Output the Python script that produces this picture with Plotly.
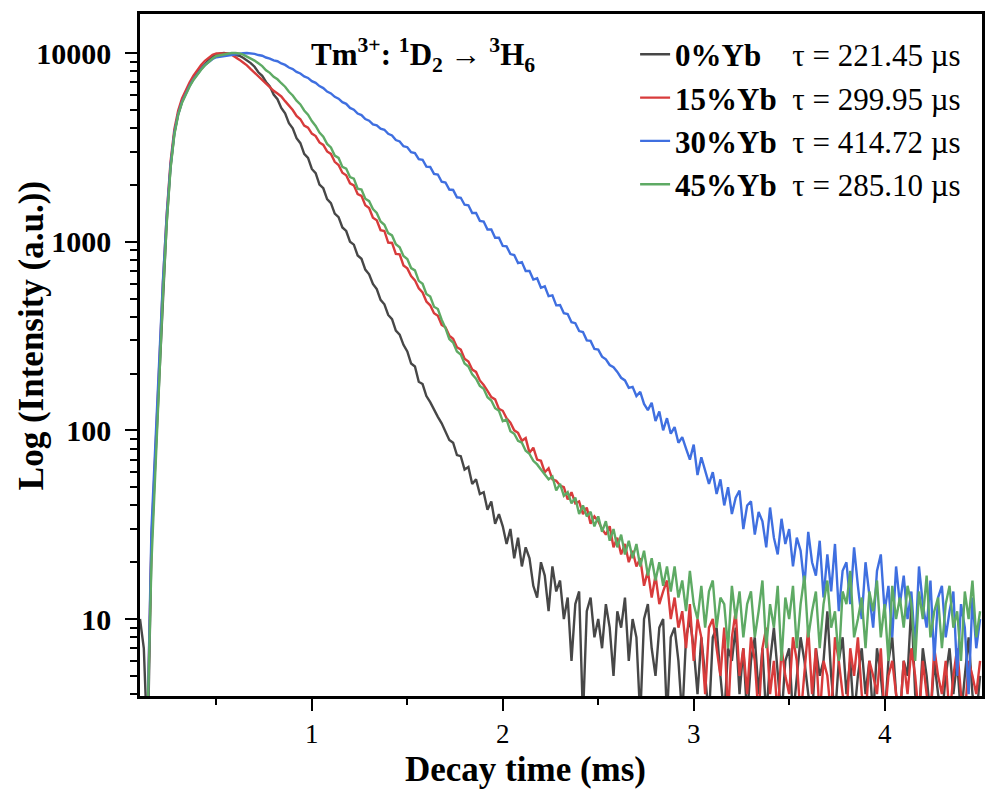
import numpy as np
import plotly.graph_objects as go

# ---------------- data ----------------
T_START = 0.10   # ms, first sample
T_STEP = 0.02    # ms, sampling step

SERIES_NAMES = ["0%Yb", "15%Yb", "30%Yb", "45%Yb"]
TAU_US = ["221.45", "299.95", "414.72", "285.10"]
COLORS = ["#474747", "#d83b3b", "#3f6fe0", "#5eaa64"]

INT_0YB = [
    10, 7, 2, 24, 68, 190, 540, 1280, 2480, 3760,
    4760, 5560, 6180, 6780, 7380, 7880, 8330, 8780, 9180, 9560,
    9850, 9960, 10000, 9930, 9870, 9760, 9680, 9450, 9150, 8850,
    8460, 7910, 7570, 7030, 6660, 6030, 5690, 5120, 4790, 4250,
    3990, 3540, 3330, 2920, 2780, 2430, 2310, 2010, 1920, 1680,
    1600, 1410, 1350, 1190, 1140, 1000, 965, 845, 812, 712,
    672, 598, 561, 492, 466, 409, 389, 338, 322, 284,
    262, 226, 218, 181, 176, 152, 141, 128, 118, 109,
    98, 89, 86, 74, 73, 62, 64, 52, 55, 46,
    47, 38, 42, 32, 36, 31, 25, 30, 21, 27,
    19, 24, 21, 15, 13, 20, 17, 11, 19, 14,
    16, 10, 13, 6, 12, 14, 3, 11, 13, 8,
    10, 7, 12, 9, 5, 11, 9, 13, 6, 10,
    8, 3, 10, 12, 7, 5, 9, 10, 3, 8,
    9, 6, 3, 8, 10, 7, 4, 8, 5, 3,
    8, 9, 5, 3, 7, 6, 9, 4, 7, 3,
    6, 8, 4, 7, 3, 6, 9, 5, 3, 6,
    7, 3, 5, 8, 6, 4, 3, 7, 5, 6,
    11, 5, 3, 6, 8, 4, 6, 3, 5, 7,
    4, 6, 3, 7, 5, 3, 6, 8, 4, 3,
    6, 5, 12, 4, 3, 7, 5, 3, 6, 4,
    3, 5, 7, 4, 6, 3, 5, 8, 4, 3,
    5,
]

INT_15YB = [
    3, 3, 3, 26, 75, 210, 600, 1400, 2650, 3950,
    4950, 5750, 6400, 7000, 7600, 8150, 8650, 9100, 9500, 9800,
    9950, 9970, 10000, 9950, 9800, 9550, 9230, 8910, 8610, 8220,
    7850, 7500, 7160, 6840, 6610, 6310, 6100, 5890, 5560, 5250,
    4990, 4640, 4460, 4130, 4020, 3740, 3630, 3360, 3260, 3010,
    2920, 2650, 2550, 2320, 2250, 2040, 1990, 1790, 1750, 1560,
    1510, 1340, 1300, 1150, 1140, 990, 985, 862, 858, 748,
    722, 658, 624, 566, 538, 482, 460, 418, 405, 362,
    352, 318, 306, 276, 268, 240, 232, 210, 204, 184,
    174, 162, 150, 146, 130, 127, 116, 110, 100, 97,
    88, 91, 76, 81, 70, 69, 60, 63, 55, 54,
    51, 50, 43, 47, 41, 42, 36, 39, 32, 35,
    33, 30, 28, 31, 24, 27, 22, 25, 20, 23,
    19, 21, 15, 18, 13, 17, 12, 14, 16, 10,
    13, 9, 11, 7, 12, 6, 10, 8, 4, 9,
    10, 7, 5, 9, 3, 8, 11, 5, 7, 4,
    8, 6, 3, 7, 9, 4, 6, 3, 7, 5,
    4, 8, 6, 3, 5, 9, 4, 7, 3, 6,
    5, 3, 8, 6, 4, 3, 7, 5, 8, 4,
    3, 6, 5, 4, 7, 3, 5, 6, 4, 3,
    6, 4, 7, 5, 3, 6, 4, 3, 7, 5,
    4, 6, 3, 5, 7, 4, 3, 6, 5, 4,
    6,
]

INT_30YB = [
    3, 3, 3, 30, 85, 230, 620, 1380, 2550, 3800,
    4750, 5500, 6100, 6700, 7250, 7750, 8200, 8650, 9000, 9300,
    9500, 9580, 9640, 9720, 9810, 9870, 9930, 9980, 10000, 9970,
    9900, 9760, 9680, 9470, 9350, 9140, 9050, 8810, 8650, 8380,
    8230, 7950, 7790, 7520, 7380, 7100, 6950, 6680, 6520, 6250,
    6110, 5860, 5730, 5490, 5380, 5120, 5010, 4780, 4690, 4470,
    4380, 4190, 4140, 3970, 3920, 3730, 3660, 3460, 3400, 3210,
    3170, 2980, 2950, 2740, 2720, 2500, 2490, 2290, 2270, 2080,
    2060, 1890, 1880, 1720, 1710, 1570, 1560, 1420, 1420, 1290,
    1280, 1160, 1160, 1050, 1050, 950, 945, 860, 850, 770,
    780, 700, 700, 630, 640, 570, 580, 515, 520, 460,
    462, 418, 414, 374, 370, 336, 332, 300, 298, 270,
    268, 246, 238, 222, 216, 204, 190, 184, 168, 170,
    152, 160, 138, 128, 140, 112, 126, 100, 116, 96,
    104, 86, 92, 80, 70, 84, 58, 72, 62, 52,
    60, 46, 55, 40, 50, 36, 44, 48, 30, 40,
    42, 28, 37, 33, 24, 39, 27, 22, 34, 25,
    30, 19, 27, 23, 15, 29, 20, 17, 26, 13,
    22, 14, 25, 11, 18, 20, 12, 24, 15, 10,
    20, 13, 9, 18, 22, 11, 15, 8, 19, 12,
    17, 10, 14, 7, 19, 12, 9, 16, 6, 13,
    15, 8, 11, 14, 5, 12, 9, 4, 13, 7,
    10,
]

INT_45YB = [
    3, 3, 3, 20, 60, 180, 520, 1250, 2450, 3700,
    4700, 5450, 6050, 6650, 7200, 7700, 8150, 8600, 9000, 9350,
    9650, 9750, 9850, 9930, 10000, 10000, 9950, 9800, 9600, 9350,
    9120, 8830, 8530, 8110, 7850, 7490, 7260, 6920, 6630, 6230,
    5960, 5590, 5340, 4960, 4710, 4360, 4110, 3790, 3600, 3300,
    3160, 2860, 2780, 2490, 2440, 2200, 2160, 1910, 1890, 1690,
    1640, 1490, 1420, 1280, 1230, 1110, 1080, 970, 935, 840,
    810, 725, 705, 620, 598, 528, 512, 452, 440, 386,
    348, 305, 292, 262, 252, 226, 218, 198, 188, 172,
    166, 150, 144, 131, 127, 112, 114, 99, 96, 88,
    86, 78, 75, 69, 66, 62, 58, 55, 57, 48,
    52, 45, 47, 41, 44, 36, 40, 35, 37, 31,
    35, 29, 33, 26, 30, 24, 28, 22, 26, 21,
    25, 19, 23, 17, 21, 16, 20, 15, 19, 14,
    19, 13, 16, 11, 18, 12, 10, 15, 9, 14,
    16, 9, 13, 12, 7, 15, 10, 14, 8, 12,
    14, 8, 11, 16, 7, 12, 9, 15, 6, 13,
    10, 15, 7, 12, 17, 8, 11, 14, 7, 12,
    16, 9, 11, 6, 14, 12, 18, 8, 10, 13,
    7, 14, 11, 16, 8, 12, 6, 15, 10, 13,
    9, 15, 12, 6, 14, 10, 17, 8, 11, 13,
    7, 12, 15, 9, 11, 6, 14, 10, 16, 8,
    11,
]

X_TICKS = [1, 2, 3, 4]
X_MINOR = [0.5, 1.5, 2.5, 3.5]
Y_TICKS = [10, 100, 1000, 10000]
Y_TICK_TEXT = ["10", "100", "1000", "10000"]

SERIES = [INT_0YB, INT_15YB, INT_30YB, INT_45YB]
for s in SERIES:
    assert len(s) == 221, len(s)

# ---------------- figure ----------------
FONT = "Liberation Serif, Times New Roman, serif"
fig = go.Figure()

for name, tau, color, vals in zip(SERIES_NAMES, TAU_US, COLORS, SERIES):
    t = np.round(T_START + T_STEP * np.arange(len(vals)), 3)
    pad = "\u00a0" * (3 if len(name) == 4 else 1)
    fig.add_trace(go.Scatter(
        x=t, y=vals, mode="lines",
        name=f"<b>{name}</b>{pad} \u03c4 = {tau} \u00b5s",
        line=dict(color=color, width=2.4),
    ))

y_minor = [m * 10 ** e for e in range(0, 4) for m in range(2, 10)]

fig.update_layout(
    width=986, height=794,
    margin=dict(l=140, r=1, t=14, b=98),
    paper_bgcolor="white", plot_bgcolor="white",
    font=dict(family=FONT, color="black"),
    showlegend=True,
    legend=dict(
        x=0.588, y=0.980, xanchor="left", yanchor="top",
        bgcolor="rgba(0,0,0,0)", borderwidth=0,
        font=dict(family=FONT, size=31, color="black"),
        tracegroupgap=0,
    ),
    xaxis=dict(
        range=[0.10, 4.51], showgrid=False, zeroline=False,
        showline=True, linecolor="black", linewidth=2.5, mirror=True,
        ticks="outside", ticklen=12, tickwidth=2, tickcolor="black",
        tickvals=X_TICKS, ticktext=[str(v) for v in X_TICKS],
        tickfont=dict(family=FONT, size=27, color="black"),
        minor=dict(tickvals=X_MINOR, ticks="outside", ticklen=6,
                   tickwidth=2, tickcolor="black"),
    ),
    yaxis=dict(
        type="log", range=[0.592, 4.207], showgrid=False, zeroline=False,
        showline=True, linecolor="black", linewidth=2.5, mirror=True,
        ticks="outside", ticklen=12, tickwidth=2, tickcolor="black",
        tickvals=Y_TICKS, ticktext=Y_TICK_TEXT,
        tickfont=dict(family=FONT, size=30, color="black", weight="bold"),
        ticklabelstandoff=8,
        minor=dict(tickvals=y_minor, ticks="outside", ticklen=7,
                   tickwidth=2, tickcolor="black"),
    ),
)

fig.add_annotation(
    xref="paper", yref="paper", x=0.458, y=-0.108,
    xanchor="center", yanchor="middle", showarrow=False,
    text="Decay time (ms)",
    font=dict(family=FONT, size=35, color="black", weight="bold"),
)
fig.add_annotation(
    xref="paper", yref="paper", x=-0.128, y=0.528,
    xanchor="center", yanchor="middle", showarrow=False, textangle=-90,
    text="Log (Intensity (a.u.))",
    font=dict(family=FONT, size=35, color="black", weight="bold"),
)
fig.add_annotation(
    xref="paper", yref="paper", x=0.201, y=0.94,
    xanchor="left", yanchor="middle", showarrow=False,
    text="Tm<sup>3+</sup>: <sup>1</sup>D<sub>2</sub> \u2192 <sup>3</sup>H<sub>6</sub>",
    font=dict(family=FONT, size=31, color="black", weight="bold"),
)

fig.write_html(
    "out.html",
    config={"displayModeBar": False},
    post_script="document.body.style.margin='0px';",
)
